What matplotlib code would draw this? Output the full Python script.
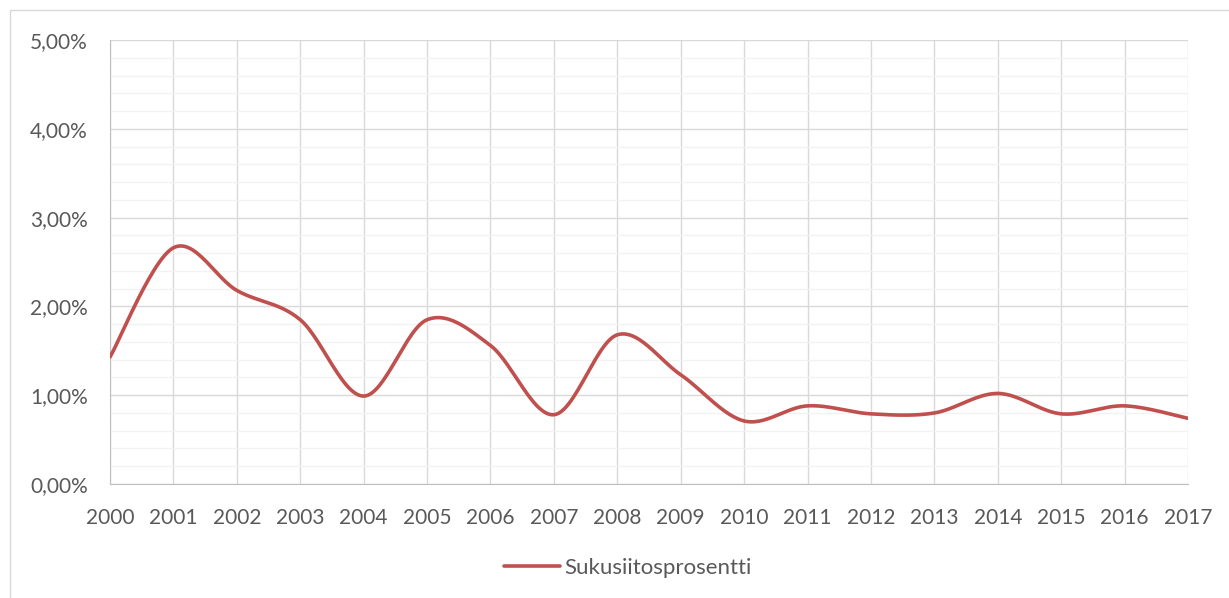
import matplotlib.pyplot as plt
from matplotlib.patches import Rectangle
from matplotlib.ticker import MultipleLocator, FuncFormatter
import numpy as np

plt.rcParams['font.family'] = ['Lato', 'DejaVu Sans']

years = list(range(2000, 2018))
prosentti = [1.43, 2.66, 2.18, 1.85, 0.99, 1.85, 1.56, 0.78, 1.68, 1.23,
             0.71, 0.88, 0.79, 0.80, 1.02, 0.79, 0.88, 0.74]
label = 'Sukusiitosprosentti'


def smooth(x, y, n=30):
    # Excel-tyyppinen pehmennetty viiva (Bezier, Catmull-Rom kontrollipisteet)
    x = np.asarray(x, float)
    y = np.asarray(y, float)
    px, py = [], []
    for i in range(len(x) - 1):
        x0, y0 = (x[i - 1], y[i - 1]) if i > 0 else (x[i], y[i])
        x3, y3 = (x[i + 2], y[i + 2]) if i + 2 < len(x) else (x[i + 1], y[i + 1])
        c1x = x[i] + (x[i + 1] - x0) / 6
        c1y = y[i] + (y[i + 1] - y0) / 6
        c2x = x[i + 1] - (x3 - x[i]) / 6
        c2y = y[i + 1] - (y3 - y[i]) / 6
        t = np.linspace(0, 1, n)
        px.extend((1 - t) ** 3 * x[i] + 3 * (1 - t) ** 2 * t * c1x + 3 * (1 - t) * t ** 2 * c2x + t ** 3 * x[i + 1])
        py.extend((1 - t) ** 3 * y[i] + 3 * (1 - t) ** 2 * t * c1y + 3 * (1 - t) * t ** 2 * c2y + t ** 3 * y[i + 1])
    return px, py


fig = plt.figure(figsize=(12.29, 5.98), dpi=100)
fig.patches.append(Rectangle((10 / 1229, -0.01), 1.0, 1 - 10 / 598 + 0.01, transform=fig.transFigure,
                             fill=False, edgecolor='#D9D9D9', linewidth=1))
ax = fig.add_axes([110 / 1229, 1 - 484 / 598, (1188 - 110) / 1229, (484 - 40) / 598])

sx, sy = smooth(years, prosentti)
ax.plot(sx, sy, color='#C0504D', linewidth=2.6, solid_capstyle='round', label=label, zorder=3)

ax.set_xlim(2000, 2017)
ax.set_ylim(0, 5)
ax.set_xticks(years)
ax.yaxis.set_major_locator(MultipleLocator(1))
ax.yaxis.set_minor_locator(MultipleLocator(0.2))
ax.yaxis.set_major_formatter(FuncFormatter(lambda v, p: ('%.2f%%' % v).replace('.', ',')))

ax.grid(True, which='major', color='#D9D9D9', linewidth=1)
ax.grid(True, which='minor', axis='y', color='#F2F2F2', linewidth=1)
ax.set_axisbelow(True)
ax.tick_params(which='both', length=0, labelsize=15, labelcolor='#595959')
ax.tick_params(axis='x', pad=17)
ax.tick_params(axis='y', pad=16)
for s in ['top', 'right']:
    ax.spines[s].set_visible(False)
for s in ['left', 'bottom']:
    ax.spines[s].set_color('#BFBFBF')

fig.legend(loc='center', bbox_to_anchor=(628 / 1229, 1 - 568 / 598), frameon=False,
           fontsize=16, labelcolor='#595959', handlelength=2.5, handletextpad=0.2)

plt.savefig('out.png', dpi=100)
